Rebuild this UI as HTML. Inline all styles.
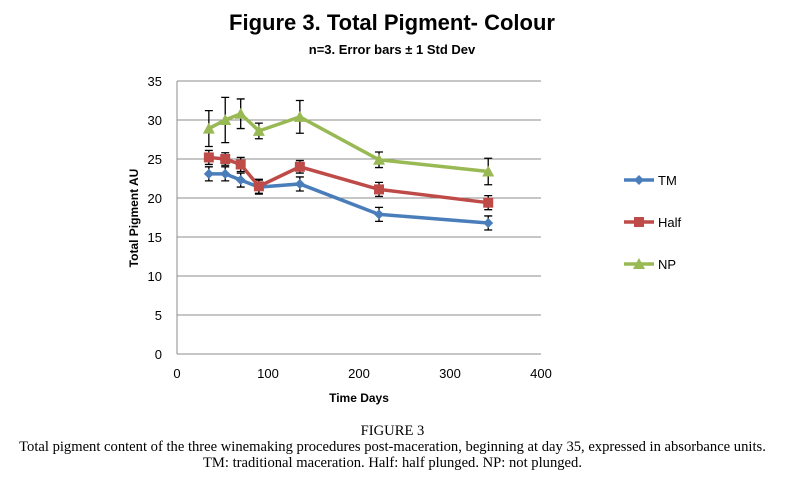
<!DOCTYPE html>
<html><head><meta charset="utf-8"><style>
body{margin:0;background:#fff;width:785px;height:492px;overflow:hidden;font-family:"Liberation Sans",sans-serif}
svg{position:absolute;left:0;top:0}
.cap{position:absolute;left:0;width:785px;text-align:center;font-family:"Liberation Serif",serif;font-size:14.6px;color:#000;line-height:16px}
</style></head><body>
<svg width="785" height="420">
<text x="392" y="30" text-anchor="middle" font-size="22" font-weight="bold">Figure 3. Total Pigment- Colour</text>
<text x="392" y="54" text-anchor="middle" font-size="13" font-weight="bold">n=3. Error bars ± 1 Std Dev</text>
<g id="grid"></g><g id="axes"></g><g id="series"></g><g id="legend"></g>
<text x="359" y="402" text-anchor="middle" font-size="12" font-weight="bold">Time Days</text>
<text transform="translate(138,218) rotate(-90)" text-anchor="middle" font-size="12" font-weight="bold">Total Pigment AU</text>
</svg>
<div class="cap" style="top:423px">FIGURE 3</div>
<div class="cap" style="top:439px">Total pigment content of the three winemaking procedures post-maceration, beginning at day 35, expressed in absorbance units.<br>TM: traditional maceration. Half: half plunged. NP: not plunged.</div>
<script>
const days=[35,53,70,90,135,222,342];
const tmVals=[23.1,23.1,22.3,21.4,21.8,17.9,16.8];
const tmErr=[0.9,0.9,0.9,0.9,0.9,0.9,0.9];
const halfVals=[25.2,25.0,24.3,21.5,24.0,21.1,19.4];
const halfErr=[0.9,0.8,0.9,0.9,0.8,0.9,0.9];
const npVals=[28.9,30.0,30.8,28.6,30.4,24.9,23.4];
const npErr=[2.3,2.9,1.9,1.0,2.1,1.0,1.7];
const yTicks=[0,5,10,15,20,25,30,35];
const xTicks=[0,100,200,300,400];
const NS="http://www.w3.org/2000/svg";
const X=v=>177+v*0.91, Y=v=>354-v*7.8;
function mk(t,a,p){const e=document.createElementNS(NS,t);for(const k in a)e.setAttribute(k,a[k]);p.appendChild(e);return e;}
const grid=document.getElementById('grid'),axes=document.getElementById('axes'),ser=document.getElementById('series'),leg=document.getElementById('legend');
yTicks.forEach(v=>{
 if(v>0){const l=mk('line',{x1:177,x2:541,y1:Y(v),y2:Y(v),stroke:'#8c8c8c','stroke-width':1},grid);
 
 }
 const t=mk('text',{x:162,y:Y(v)+5,'text-anchor':'end','font-size':13},axes);t.textContent=v;
 
 
});
xTicks.forEach(v=>{
 const t=mk('text',{x:X(v),y:378,'text-anchor':'middle','font-size':13},axes);t.textContent=v;
 
 
});
mk('line',{x1:177,x2:177,y1:Y(35),y2:354,stroke:'#8c8c8c'},axes);
mk('line',{x1:177,x2:541,y1:354,y2:354,stroke:'#8c8c8c'},axes);
const series=[['tm',tmVals,tmErr,'#4a7ebb','d','TM'],['half',halfVals,halfErr,'#be4b48','s','Half'],['np',npVals,npErr,'#98b954','t','NP']];
function marker(kind,x,y,c,p){
 if(kind==='d')return mk('polygon',{points:`${x},${y-5} ${x+5},${y} ${x},${y+5} ${x-5},${y}`,fill:c},p);
 if(kind==='s')return mk('rect',{x:x-5,y:y-5,width:10,height:10,fill:c},p);
 return mk('polygon',{points:`${x},${y-6} ${x+6},${y+5} ${x-6},${y+5}`,fill:c},p);
}
series.forEach(([id,vals,errs,c,k,name],si)=>{
 const g=mk('g',{},ser);
 
 
 const line=mk('polyline',{points:days.map((d,i)=>X(d)+','+Y(vals[i])).join(' '),fill:'none',stroke:c,'stroke-width':3.5},g);
 
 
 days.forEach((d,i)=>{
  const x=X(d),t=Y(vals[i]+errs[i]),b=Y(vals[i]-errs[i]);
  const e=mk('path',{d:`M${x},${t}V${b}M${x-4},${t}H${x+4}M${x-4},${b}H${x+4}`,stroke:'#000','stroke-width':1.3,fill:'none'},g);
  
  
  const m=marker(k,x,Y(vals[i]),c,g);
  
  
 });
 const ly=180+si*42;
 const lg=mk('g',{},leg);
 
 
 mk('line',{x1:624,x2:654,y1:ly,y2:ly,stroke:c,'stroke-width':3.5},lg);
 marker(k,639,ly,c,lg);
 const lt=mk('text',{x:658,y:ly+5,'font-size':13},lg);lt.textContent=name;
});
</script>
</body></html>
